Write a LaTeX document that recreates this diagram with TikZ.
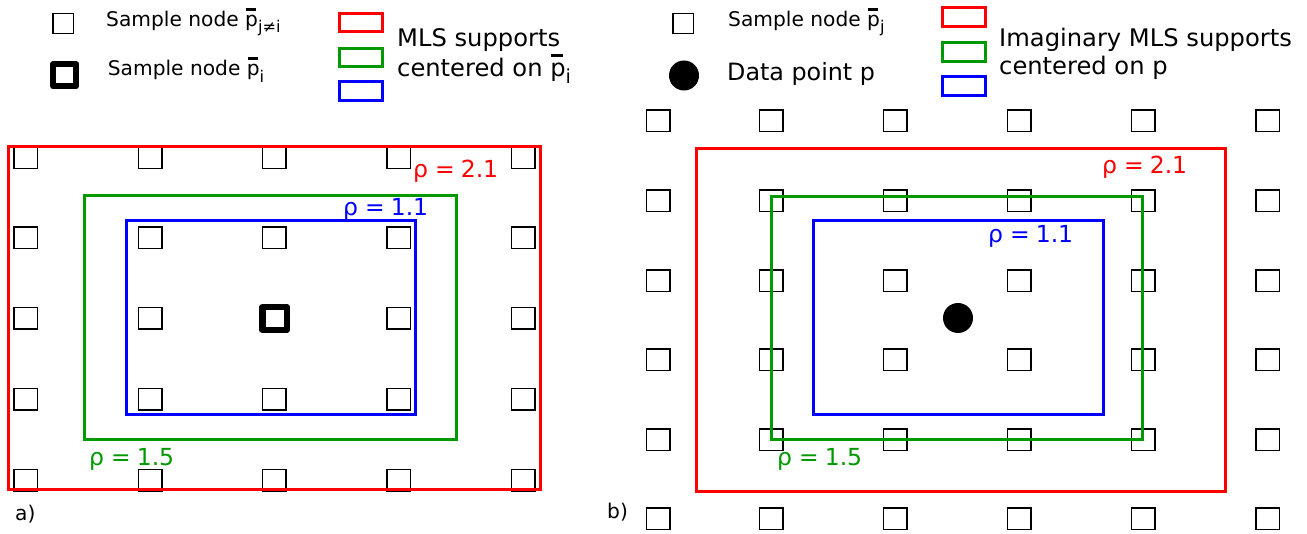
\documentclass[tikz,border=0pt]{standalone}
\usepackage{fontspec}
\setmainfont{DejaVu Sans}
\definecolor{rred}{RGB}{255,0,0}
\definecolor{ggreen}{RGB}{0,153,0}
\definecolor{bblue}{RGB}{0,0,255}
\newcommand{\pb}{\makebox[0pt][l]{\hspace{0.04em}\rule[0.8em]{0.5em}{0.12em}}p}
\newcommand{\subs}[1]{\raisebox{-0.3em}{\scalebox{0.8}{#1}}}
\newcommand{\rholab}[1]{ρ\hspace{7pt}=\hspace{6pt}#1}
\begin{document}
\begin{tikzpicture}[x=1pt,y=-1pt,
  sq/.style={draw=black, line width=1.5pt, minimum width=23.5pt, minimum height=21.5pt, inner sep=0pt},
  legsq/.style={draw=black, line width=1.5pt, minimum width=20.5pt, minimum height=20pt, inner sep=0pt},
  boldsq/.style={draw=black, line width=6.5pt, line join=round, minimum width=24.5pt, minimum height=22.7pt, inner sep=0pt},
  dot/.style={circle, fill=black, minimum size=30pt, inner sep=0pt},
  supp/.style={line width=3pt},
  legrect/.style={draw, line width=3pt, minimum width=43pt, minimum height=18.5pt, inner sep=0pt},
  smalltxt/.style={font=\fontsize{20.2}{24}\selectfont, inner sep=0pt, anchor=base west},
  bigtxt/.style={font=\fontsize{24.2}{30}\selectfont, inner sep=0pt, anchor=base west, align=left},
  rhotxt/.style={font=\fontsize{23.5}{26}\selectfont, inner sep=0pt, anchor=base west},
]
\useasboundingbox (0,0) rectangle (1307,534);
\fill[white] (0,0) rectangle (1307,534);

% ---------- legend a ----------
\node[legsq] (la1) at (63.3,23.5) {};
\node[smalltxt] (lt1) at (106,26.7) {Sample node \pb\subs{j≠i}};
\node[boldsq, line width=6pt, minimum width=23pt, minimum height=22pt] (la2) at (64.7,75.2) {};
\node[smalltxt] (lt2) at (107.7,76) {Sample node \pb\subs{i}};
\node[legrect, draw=rred] (lr1) at (361,22.5) {};
\node[legrect, draw=ggreen] (lr2) at (361,57.5) {};
\node[legrect, draw=bblue] (lr3) at (361,91) {};
\node[bigtxt] (lm1) at (397,46.7) {MLS supports};
\node[bigtxt] (lm2) at (397,76.5) {centered on \pb\subs{i}};

% ---------- legend b ----------
\node[legsq] (rb1) at (683.3,23.5) {};
\node[smalltxt] (rt1) at (728,26.7) {Sample node \pb\subs{j}};
\node[dot] (rb2) at (684,75.5) {};
\node[bigtxt, font=\fontsize{23.8}{30}\selectfont] (rt2) at (727,81) {Data point p};
\node[legrect, draw=rred] (rr1) at (963.5,17) {};
\node[legrect, draw=ggreen] (rr2) at (963.5,52) {};
\node[legrect, draw=bblue] (rr3) at (963.5,86) {};
\node[bigtxt] (rm1) at (999,46.7) {Imaginary MLS supports};
\node[bigtxt] (rm2) at (999,75) {centered on p};

% ---------- panel a ----------
\foreach \c/\x in {1/25.6,2/150,3/274.4,4/398.7,5/523}{
  \foreach \r/\y in {1/157.8,2/237.8,3/318.5,4/399.3,5/480.3}{
    \ifnum\c=3 \ifnum\r=3 \else
      \node[sq] (a\c\r) at (\x,\y) {};
    \fi\else
      \node[sq] (a\c\r) at (\x,\y) {};
    \fi
  }
}
\node[boldsq] (a33) at (274.5,318.6) {};
\draw[supp, rred]  (8.7,146.3) rectangle (540.5,489.5);
\draw[supp, ggreen] (84,196) rectangle (456.5,439.5);
\draw[supp, bblue]  (126,221) rectangle (415.5,414.5);
\node[rhotxt, text=rred]  (ra) at (413,178) {\rholab{2.1}};
\node[rhotxt, text=bblue] (ba) at (343,216) {\rholab{1.1}};
\node[rhotxt, text=ggreen] (ga) at (89,465) {\rholab{1.5}};
\node[smalltxt] (alab) at (15,520) {a)};

% ---------- panel b ----------
\foreach \c/\x in {1/658,2/771,3/895,4/1019,5/1143,6/1267.5}{
  \foreach \r/\y in {1/121,2/201,3/281,4/360,5/440,6/518.5}{
    \node[sq] (b\c\r) at (\x,\y) {};
  }
}
\draw[supp, rred]  (696,149) rectangle (1225,491);
\draw[supp, ggreen] (771.5,196.5) rectangle (1142.5,439.5);
\draw[supp, bblue]  (813.5,220.5) rectangle (1103,414.5);
\node[dot] (p) at (958,318) {};
\node[rhotxt, text=rred]  (rb) at (1102,174) {\rholab{2.1}};
\node[rhotxt, text=bblue] (bb) at (988,243) {\rholab{1.1}};
\node[rhotxt, text=ggreen] (gb) at (777,466) {\rholab{1.5}};
\node[smalltxt] (blab) at (607,518) {b)};
\end{tikzpicture}
\end{document}
